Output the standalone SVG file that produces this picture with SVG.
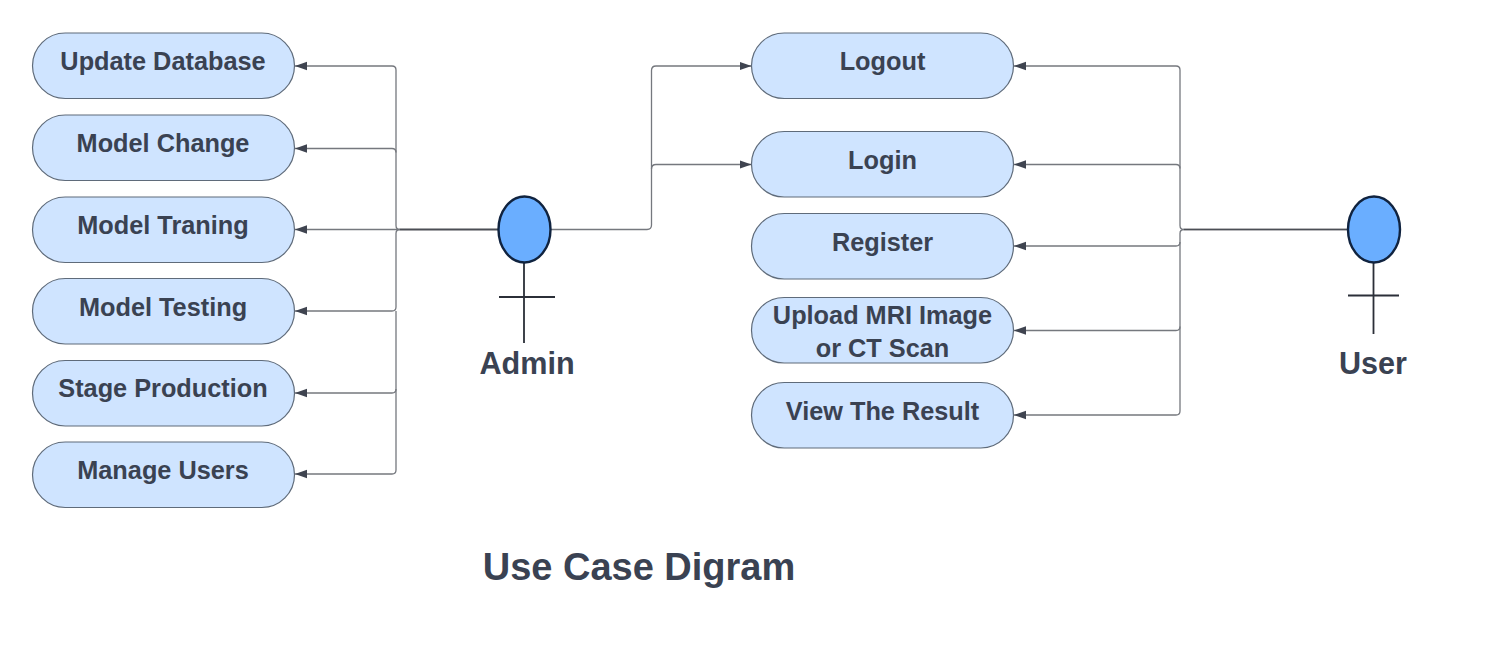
<svg xmlns="http://www.w3.org/2000/svg" width="1505" height="654" viewBox="0 0 1505 654">
<defs>
<marker id="arrow" markerUnits="userSpaceOnUse" markerWidth="12" markerHeight="10" refX="12" refY="5" orient="auto" viewBox="0 0 12 10"><path d="M0 0.800L12 5L0 9.200Z" fill="#3f4450"/></marker>
</defs>
<style>
.uc{fill:#cfe4ff;stroke:#5f6b7a;stroke-width:1.2}
.t{font-family:"Liberation Sans",Arial,sans-serif;font-weight:700;font-size:25.300px;fill:#3a4252;text-anchor:middle}
.a{font-size:30.600px}
.c{fill:none;stroke:#75787e;stroke-width:1.3}
.c path{marker-end:url(#arrow)}
.c path.trunk{marker-end:none;stroke:#4b4e55;stroke-width:1.6}
.head{fill:#6aaeff;stroke:#10233f;stroke-width:2.4}
.body{stroke:#2b2f38;stroke-width:1.8;fill:none}
</style>
<rect width="1505" height="654" fill="#fff"/>
<g id="connectors" class="c">
<path d="M498 229.500H400Q396 229.500 396 225.500V70Q396 66 392 66H295"/>
<path d="M396 152.500Q396 148.500 392 148.500H295"/>
<path d="M498 229.500H295"/>
<path d="M400 229.500Q396 229.500 396 233.500V307Q396 311 392 311H295"/>
<path d="M396 389Q396 393 392 393H295"/>
<path d="M396 311V470Q396 474 392 474H295"/>
<path d="M551 229.500H647Q651.500 229.500 651.500 225V70.500Q651.500 66 656 66H751.500"/>
<path d="M651.500 169Q651.500 164.500 656 164.500H751.500"/>
<path d="M1348 229.500H1184Q1180 229.500 1180 225.500V70Q1180 66 1176 66H1014"/>
<path d="M1180 168.500Q1180 164.500 1176 164.500H1014"/>
<path d="M1184 229.500Q1180 229.500 1180 233.500V411Q1180 415 1176 415H1014"/>
<path d="M1180 242Q1180 246 1176 246H1014"/>
<path d="M1180 326.500Q1180 330.500 1176 330.500H1014"/>
<path class="trunk" d="M400 229.500H498M1184 229.500H1348"/>
</g>
<g id="update-database"><rect class="uc" x="32.500" y="33" width="262" height="65.500" rx="32.700"/><text class="t" x="163" y="70">Update Database</text></g>
<g id="model-change"><rect class="uc" x="32.500" y="115" width="262" height="65.500" rx="32.700"/><text class="t" x="163" y="152">Model Change</text></g>
<g id="model-traning"><rect class="uc" x="32.500" y="197" width="262" height="65.500" rx="32.700"/><text class="t" x="163" y="233.500">Model Traning</text></g>
<g id="model-testing"><rect class="uc" x="32.500" y="278.500" width="262" height="65.500" rx="32.700"/><text class="t" x="163" y="315.500">Model Testing</text></g>
<g id="stage-production"><rect class="uc" x="32.500" y="360.500" width="262" height="65.500" rx="32.700"/><text class="t" x="163" y="397">Stage Production</text></g>
<g id="manage-users"><rect class="uc" x="32.500" y="442" width="262" height="65.500" rx="32.700"/><text class="t" x="163" y="479">Manage Users</text></g>
<g id="logout"><rect class="uc" x="751.500" y="33" width="262" height="65.500" rx="32.700"/><text class="t" x="882.500" y="70">Logout</text></g>
<g id="login"><rect class="uc" x="751.500" y="131.500" width="262" height="65.500" rx="32.700"/><text class="t" x="882.500" y="168.500">Login</text></g>
<g id="register"><rect class="uc" x="751.500" y="213.500" width="262" height="65.500" rx="32.700"/><text class="t" x="882.500" y="250.500">Register</text></g>
<g id="upload"><rect class="uc" x="751.500" y="297.500" width="262" height="65.500" rx="32.700"/><text class="t" x="882.500" y="324">Upload MRI Image</text><text class="t" x="882.500" y="357">or CT Scan</text></g>
<g id="view-result"><rect class="uc" x="751.500" y="382.500" width="262" height="65.500" rx="32.700"/><text class="t" x="882.500" y="419.500">View The Result</text></g>
<g id="admin"><path class="body" d="M524 262V343M499 297H555"/><ellipse class="head" cx="524.500" cy="229.500" rx="26" ry="33"/><text class="t a" x="527" y="374">Admin</text></g>
<g id="user"><path class="body" d="M1373.500 262V334M1348 295.500H1399"/><ellipse class="head" cx="1374" cy="229.500" rx="26" ry="33"/><text class="t a" x="1373" y="374">User</text></g>
<text class="t" style="font-size:38px" x="639" y="580">Use Case Digram</text>
</svg>
